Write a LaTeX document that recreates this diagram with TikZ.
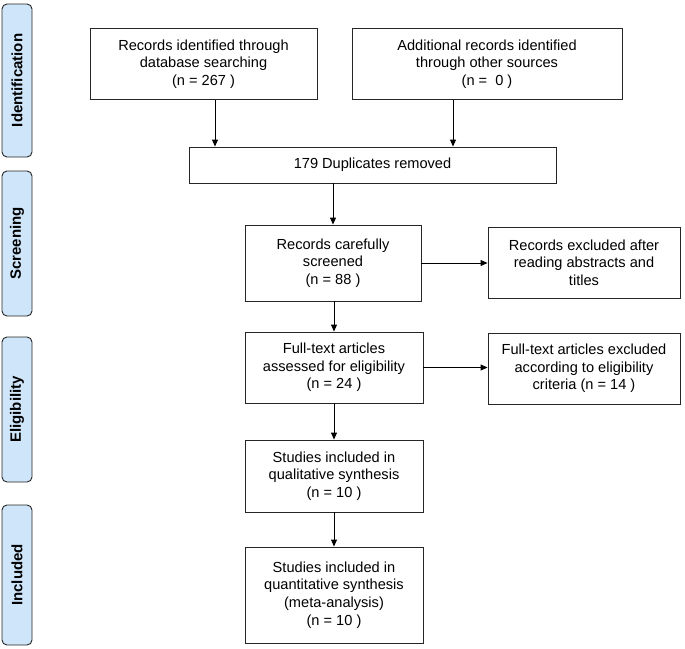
\documentclass[tikz,border=0pt]{standalone}
\usepackage{fontspec}
\setmainfont{Liberation Sans}
\usetikzlibrary{calc}
\usetikzlibrary{arrows.meta}
\definecolor{phase}{RGB}{207,229,250}

\begin{document}
\begin{tikzpicture} [x=1pt,y=-1pt, font=\fontsize{14.6}{17.7}\selectfont,
 box/.style={draw=black!85, line width=.9pt, align=center, inner sep=2pt},
 phasebox/.style={draw=black!85, line width=.9pt, fill=phase, rounded corners=5pt, rotate=90, font=\fontsize{15}{17}\bfseries, inner sep=0pt},
 >={Triangle[length=7pt,width=6pt]}]
\useasboundingbox (0,0) rectangle (685,648);
% phases
\node[phasebox, minimum width=153, minimum height=30] (ident) at (17,80.5) {Identification};
\node[phasebox, minimum width=145, minimum height=30] (screen) at (17,243.5) {Screening};
\node[phasebox, minimum width=145, minimum height=30] (elig) at (17,409.5) {Eligibility};
\node[phasebox, minimum width=140, minimum height=30] (incl) at (17,575) {Included};
% boxes
\node[box, minimum width=227, minimum height=71] (db) at (203.5,64) {Records identified through\\database searching\\(n = 267 )};
\node[box, minimum width=270, minimum height=71] (other) at (487,64) {Additional records identified\\through other sources\\(n =\ \ 0 )};
\node[box, minimum width=367, minimum height=36] (dup) at (372.5,165) {179 Duplicates removed};
\node[box, minimum width=176, minimum height=76] (scr) at (333,263) {Records carefully\\screened\\(n = 88 )};
\node[box, minimum width=192, minimum height=71] (exa) at (584,262.5) {Records excluded after\\reading abstracts and\\titles};
\node[box, minimum width=178, minimum height=71] (full) at (334,367.5) {Full-text articles\\assessed for eligibility\\(n = 24 )};
\node[box, minimum width=192, minimum height=71] (exf) at (584,368.5) {Full-text articles excluded\\according to eligibility\\criteria (n = 14 )};
\node[box, minimum width=178, minimum height=72] (qual) at (334,476) {Studies included in\\qualitative synthesis\\(n = 10 )};
\node[box, minimum width=178, minimum height=96] (quant) at (334,595) {Studies included in\\quantitative synthesis\\(meta-analysis)\\(n = 10 )};
% arrows
\draw[->, line width=.9pt] ([xshift=11.5]db.south) -- ([xshift=11.5]db.south |- dup.north);
\draw[->, line width=.9pt] ([xshift=-34]other.south) -- ([xshift=-34]other.south |- dup.north);
\draw[->, line width=.9pt] (dup.south -| scr) -- (scr.north);
\draw[->, line width=.9pt] (scr.east) -- (scr.east -| exa.west);
\draw[->, line width=.9pt] (scr.south -| full) -- (full.north);
\draw[->, line width=.9pt] (full.east) -- (full.east -| exf.west);
\draw[->, line width=.9pt] (full.south) -- (qual.north);
\draw[->, line width=.9pt] (qual.south) -- (quant.north);
\end{tikzpicture}
\end{document}
